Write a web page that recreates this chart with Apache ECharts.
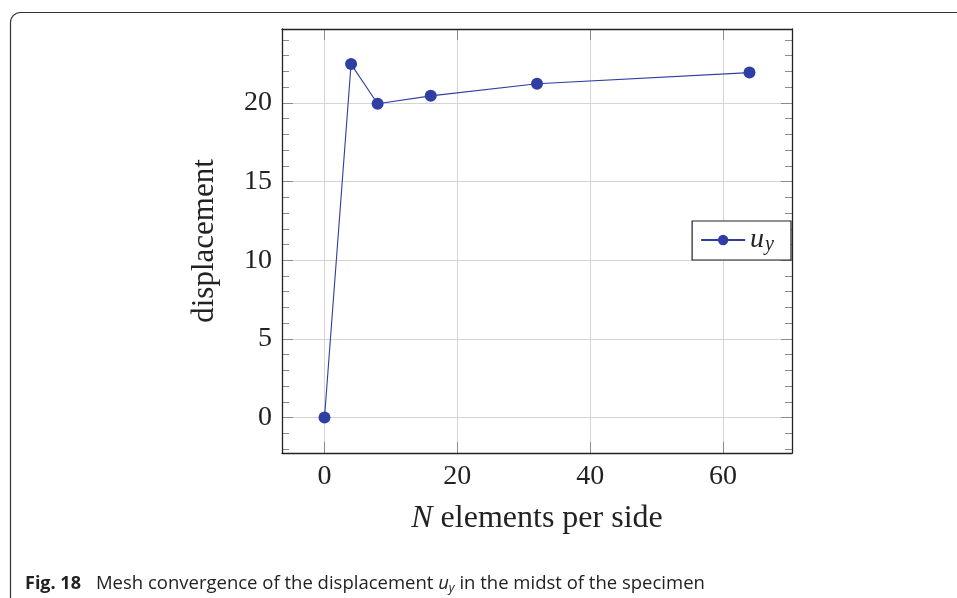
<!DOCTYPE html>
<html>
<head>
<meta charset="utf-8">
<script src="https://cdn.jsdelivr.net/npm/echarts@6/dist/echarts.min.js"></script>
<style>
  html, body { margin: 0; padding: 0; background: #fff; }
  #chart { width: 957px; height: 598px; }
</style>
</head>
<body>
<div id="chart"></div>
<script>
// data
var elements = [0, 4, 8, 16, 32, 64];
var displacement = [0, 22.47, 19.95, 20.45, 21.22, 21.93];
var xTicks = [0, 20, 40, 60];
var yTicks = [0, 5, 10, 15, 20];

var dom = document.getElementById('chart');
var myChart = echarts.init(dom, null, { renderer: 'canvas' });

var serif = 'Liberation Serif';
var blue = '#2f3ea3';
var frame = '#222';
var tickColor = '#8c8c8c';
var gridColor = '#d4d4d4';

var xMin = -6.4, xMax = 70.4;
var yMin = -2.25, yMax = 24.7;

function onTick(list) {
  return function (v) {
    return list.indexOf(Math.round(v * 1000) / 1000) >= 0 ? String(v) : '';
  };
}

function majorX(pos, showLabel) {
  return {
    type: 'value', position: pos, min: xMin, max: xMax,
    splitNumber: 4, minInterval: 20, maxInterval: 20,
    axisLine: { show: false, onZero: false },
    axisTick: { show: true, inside: true, length: 11, lineStyle: { color: tickColor, width: 1 } },
    axisLabel: {
      show: showLabel, margin: 10, color: '#222', fontFamily: serif, fontSize: 28,
      formatter: onTick(xTicks)
    },
    splitLine: { show: showLabel, lineStyle: { color: gridColor, width: 1 } }
  };
}

function majorY(pos, showLabel) {
  return {
    type: 'value', position: pos, min: yMin, max: yMax,
    splitNumber: 5, minInterval: 5, maxInterval: 5,
    axisLine: { show: false, onZero: false },
    axisTick: { show: true, inside: true, length: 11, lineStyle: { color: tickColor, width: 1 } },
    axisLabel: {
      show: showLabel, margin: 10, color: '#222', fontFamily: serif, fontSize: 28,
      formatter: onTick(yTicks)
    },
    splitLine: { show: showLabel, lineStyle: { color: gridColor, width: 1 } }
  };
}

function minorY(pos) {
  return {
    type: 'value', position: pos, min: yMin, max: yMax,
    splitNumber: 27, minInterval: 1, maxInterval: 1,
    axisLine: { show: false, onZero: false },
    axisTick: { show: true, inside: true, length: 7, lineStyle: { color: tickColor, width: 1 } },
    axisLabel: { show: false },
    splitLine: { show: false }
  };
}

// plain axes that only draw the black box, kept above the ticks
function boxX(pos) {
  return {
    type: 'value', position: pos, min: xMin, max: xMax, z: 10,
    axisLine: { show: true, onZero: false, lineStyle: { color: frame, width: 1.3 } },
    axisTick: { show: false }, axisLabel: { show: false }, splitLine: { show: false }
  };
}
function boxY(pos) {
  return {
    type: 'value', position: pos, min: yMin, max: yMax, z: 10,
    axisLine: { show: true, onZero: false, lineStyle: { color: frame, width: 1.3 } },
    axisTick: { show: false }, axisLabel: { show: false }, splitLine: { show: false }
  };
}

var xBottom = majorX('bottom', true);
xBottom.name = '{n|N} elements per side';
xBottom.nameLocation = 'middle';
xBottom.nameGap = 50;
xBottom.nameTextStyle = {
  color: '#222', fontFamily: serif, fontSize: 32,
  rich: { n: { fontFamily: serif, fontStyle: 'italic', fontSize: 32, color: '#222' } }
};

var yLeft = majorY('left', true);
yLeft.name = 'displacement';
yLeft.nameLocation = 'middle';
yLeft.nameGap = 62;
yLeft.nameTextStyle = { color: '#222', fontFamily: serif, fontSize: 31 };

var option = {
  animation: false,
  title: {
    left: 20, top: 567,
    text: '{b|Fig. 18}{n|Mesh convergence of the displacement }{i|u}{s|y}{n| in the midst of the specimen}',
    textStyle: {
      fontWeight: 'normal',
      rich: {
        b: { fontFamily: 'Open Sans', fontWeight: 'bold', fontSize: 18, color: '#222', padding: [0, 15, 0, 0] },
        n: { fontFamily: 'Open Sans', fontWeight: 'normal', fontSize: 18.5, color: '#222' },
        i: { fontFamily: 'Open Sans', fontWeight: 'normal', fontStyle: 'italic', fontSize: 18.5, color: '#222' },
        s: { fontFamily: 'Open Sans', fontWeight: 'normal', fontStyle: 'italic', fontSize: 12.5, color: '#222', padding: [10, 0, 0, 0] }
      }
    }
  },
  graphic: [{
    type: 'rect', silent: true,
    shape: { x: 10.5, y: 12.5, width: 1000, height: 700, r: [10, 0, 0, 0] },
    style: { fill: 'none', stroke: '#333', lineWidth: 1.2 }
  }],
  grid: { left: 282, right: 165, top: 29, bottom: 145, containLabel: false },
  legend: {
    right: 166, top: 221,
    orient: 'vertical',
    backgroundColor: '#fff',
    borderColor: frame, borderWidth: 1.2, borderRadius: 0,
    padding: [5, 17, 5, 8],
    itemWidth: 44, itemHeight: 13,
    formatter: function () { return '{u|u}{s|y}'; },
    textStyle: {
      rich: {
        u: { fontFamily: serif, fontStyle: 'italic', fontSize: 28, color: '#222' },
        s: { fontFamily: serif, fontStyle: 'italic', fontSize: 20, color: '#222', padding: [10, 0, 0, 1] }
      }
    }
  },
  xAxis: [xBottom, majorX('top', false), boxX('bottom'), boxX('top')],
  yAxis: [yLeft, minorY('left'), majorY('right', false), minorY('right'), boxY('left'), boxY('right')],
  series: [{
    name: 'u_y',
    type: 'line',
    xAxisIndex: 0, yAxisIndex: 0,
    data: elements.map(function (n, i) { return [n, displacement[i]]; }),
    symbol: 'circle', symbolSize: 12,
    lineStyle: { color: blue, width: 1.1 },
    itemStyle: { color: blue },
    z: 5
  }]
};

myChart.setOption(option);
window.addEventListener('resize', myChart.resize);
</script>
</body>
</html>
